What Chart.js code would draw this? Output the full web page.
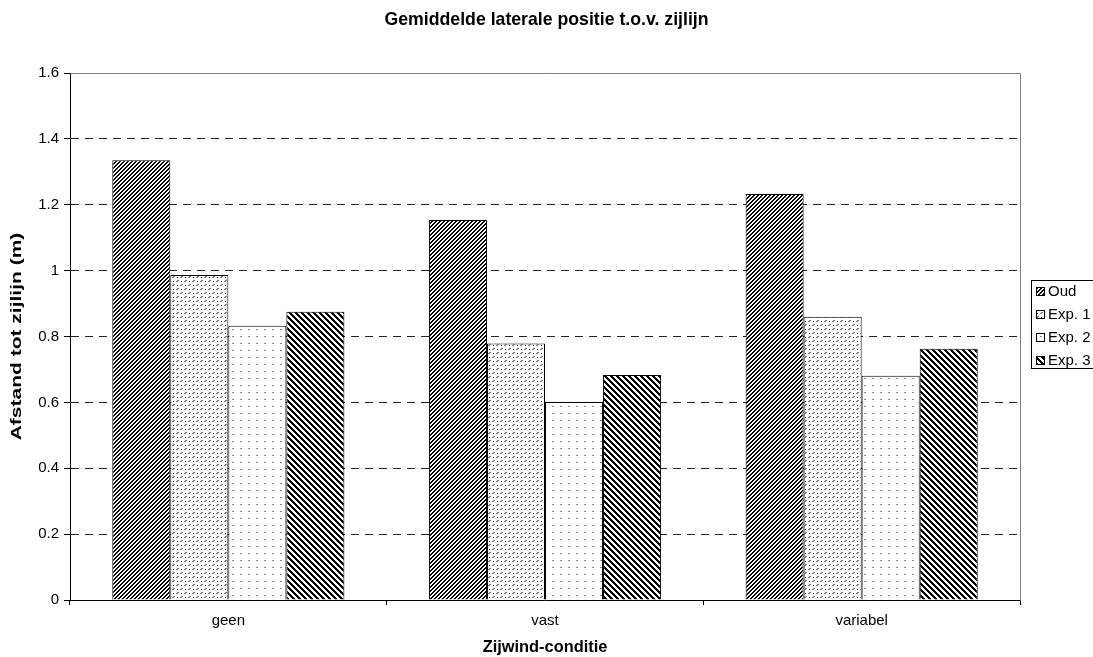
<!DOCTYPE html>
<html>
<head>
<meta charset="utf-8">
<script src="https://cdn.jsdelivr.net/npm/chart.js@4/dist/chart.umd.min.js"></script>
<style>
  html, body { margin: 0; padding: 0; background: #fff; overflow: hidden; }
  #wrap { width: 1093px; height: 657px; }
</style>
</head>
<body>
<div id="wrap"><canvas id="c" width="1093" height="657"></canvas></div>
<script>
// Mean lateral position relative to the side line, per crosswind condition
const categories = ['geen', 'vast', 'variabel'];
const seriesNames = ['Oud', 'Exp. 1', 'Exp. 2', 'Exp. 3'];
const oud  = [1.335, 1.154, 1.233];
const exp1 = [0.987, 0.779, 0.860];
const exp2 = [0.833, 0.601, 0.681];
const exp3 = [0.875, 0.683, 0.763];
const yTickLabels = ['0', '0.2', '0.4', '0.6', '0.8', '1', '1.2', '1.4', '1.6'];
const yTitle = 'Afstand tot zijlijn (m)';

const FONT = "'Liberation Sans', Arial, sans-serif";

// --- fill patterns built from small pixel tiles ---
function tile(w, h, paint) {
  const c = document.createElement('canvas');
  c.width = w; c.height = h;
  const g = c.getContext('2d');
  g.fillStyle = '#fff';
  g.fillRect(0, 0, w, h);
  paint(g);
  return c;
}
function diagonal(n, k, rising, color) {
  return tile(n, n, g => {
    g.fillStyle = color;
    for (let y = 0; y < n; y++) {
      for (let x = 0; x < n; x++) {
        const v = rising ? (x + y) % n : ((x - y) % n + n) % n;
        if (v < k) g.fillRect(x, y, 1, 1);
      }
    }
  });
}
const ctx = document.getElementById('c').getContext('2d');
const patOud = ctx.createPattern(diagonal(4, 2, true, '#000'), 'repeat');
const patExp3 = ctx.createPattern(diagonal(6, 3, false, '#000'), 'repeat');
const patExp1 = ctx.createPattern(tile(8, 8, g => {
  g.fillStyle = '#808080';
  g.fillRect(1, 0, 2, 1); g.fillRect(0, 1, 2, 1);
  g.fillRect(5, 4, 2, 1); g.fillRect(4, 5, 2, 1);
  g.fillStyle = '#000';
  g.fillRect(5, 1, 1, 1);
  g.fillRect(1, 5, 1, 1);
}), 'repeat');
const patExp2 = ctx.createPattern(tile(8, 7, g => {
  g.fillStyle = '#8a8a8a';
  g.fillRect(0, 0, 2, 1);
}), 'repeat');
const fills = [patOud, patExp1, patExp2, patExp3];
const values = [oud, exp1, exp2, exp3];

// grey frame on the top and right side of the plot area
const framePlugin = {
  id: 'frame',
  afterDraw(chart) {
    const { ctx, chartArea: a } = chart;
    ctx.save();
    ctx.strokeStyle = '#808080';
    ctx.lineWidth = 1;
    ctx.beginPath();
    ctx.moveTo(Math.round(a.left) + 0.5, Math.round(a.top) + 0.5);
    ctx.lineTo(Math.round(a.right) + 0.5, Math.round(a.top) + 0.5);
    ctx.lineTo(Math.round(a.right) + 0.5, Math.round(a.bottom) + 0.5);
    ctx.stroke();
    ctx.restore();
  }
};

// rotated value-axis title, drawn tall and narrow
const yTitlePlugin = {
  id: 'yTitle',
  afterDraw(chart) {
    const { ctx, chartArea: a } = chart;
    ctx.save();
    ctx.translate(17, (a.top + a.bottom) / 2);
    ctx.rotate(-Math.PI / 2);
    ctx.scale(1, 0.66);
    ctx.font = 'bold 21px ' + FONT;
    ctx.fillStyle = '#000';
    ctx.textAlign = 'center';
    ctx.textBaseline = 'middle';
    ctx.fillText(yTitle, 0, 0);
    ctx.restore();
  }
};

// boxed legend to the right of the plot area
const legendPlugin = {
  id: 'boxLegend',
  afterDraw(chart) {
    const { ctx } = chart;
    const x0 = 1031, y0 = 280, w = 90, h = 88, step = 23;
    ctx.save();
    ctx.fillStyle = '#fff';
    ctx.fillRect(x0, y0, w, h);
    ctx.strokeStyle = '#000';
    ctx.lineWidth = 1;
    ctx.strokeRect(x0 + 0.5, y0 + 0.5, w, h);
    ctx.font = '15px ' + FONT;
    ctx.textBaseline = 'middle';
    chart.data.datasets.forEach((ds, i) => {
      const cy = y0 + 11 + i * step;
      ctx.fillStyle = ds.backgroundColor;
      ctx.fillRect(x0 + 5, cy - 4, 9, 9);
      ctx.strokeStyle = '#000';
      ctx.strokeRect(x0 + 5.5, cy - 3.5, 8, 8);
      ctx.fillStyle = '#000';
      ctx.fillText(ds.label, x0 + 17, cy + 1);
    });
    ctx.restore();
  }
};

new Chart(ctx, {
  type: 'bar',
  data: {
    labels: categories,
    datasets: seriesNames.map((name, i) => ({
      label: name,
      data: values[i],
      backgroundColor: fills[i],
      borderColor: '#000',
      borderWidth: 1,
      categoryPercentage: 0.733,
      barPercentage: 1.0
    }))
  },
  options: {
    responsive: false,
    animation: false,
    layout: { padding: 0 },
    plugins: {
      legend: { display: false },
      tooltip: { enabled: false },
      title: {
        display: true,
        text: 'Gemiddelde laterale positie t.o.v. zijlijn',
        color: '#000',
        font: { family: FONT, size: 17.7, weight: 'bold' },
        padding: { top: 9, bottom: 42.8 }
      }
    },
    scales: {
      x: {
        grid: {
          display: true,
          drawOnChartArea: false,
          tickLength: 5,
          tickColor: '#000',
          offset: true
        },
        border: { display: true, color: '#000', width: 1 },
        ticks: {
          color: '#000',
          padding: 7,
          font: { family: FONT, size: 15 }
        },
        title: {
          display: true,
          text: 'Zijwind-conditie',
          color: '#000',
          font: { family: FONT, size: 16.4, weight: 'bold' },
          padding: { top: 0, bottom: 0 }
        },
        afterFit(scale) { scale.height = 57; }
      },
      y: {
        min: 0,
        max: 1.6,
        grid: {
          color: c => (c.tick && c.tick.value > 1.59) ? 'rgba(0,0,0,0)' : '#222',
          lineWidth: 1,
          tickLength: 6,
          tickColor: '#000'
        },
        border: { display: true, color: '#000', width: 1, dash: [8, 6] },
        ticks: {
          stepSize: 0.2,
          color: '#000',
          padding: 5,
          font: { family: FONT, size: 15 },
          callback: (v, i) => yTickLabels[i]
        },
        afterFit(scale) { scale.width = 70; }
      },
      // empty right-hand strip that holds the legend
      side: {
        type: 'linear',
        axis: 'y',
        position: 'right',
        grid: { display: false },
        border: { display: false },
        ticks: { display: false },
        afterFit(scale) { scale.width = 73; }
      }
    }
  },
  plugins: [framePlugin, yTitlePlugin, legendPlugin]
});
</script>
</body>
</html>
